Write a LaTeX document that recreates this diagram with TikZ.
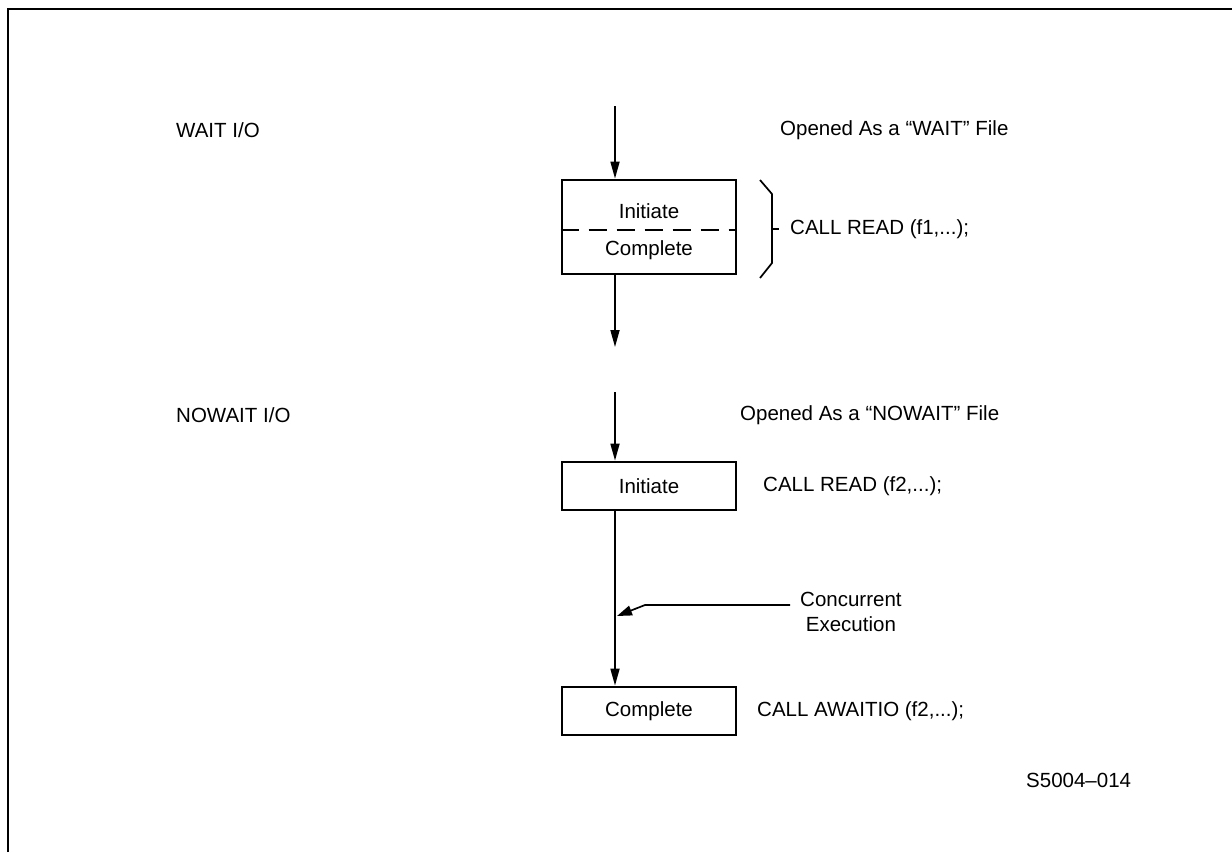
\documentclass[tikz,border=0pt]{standalone}
\usepackage{fontspec}
\setmainfont{Liberation Sans}
\usetikzlibrary{arrows.meta}
\begin{document}
\begin{tikzpicture}[x=1pt,y=-1pt,
  lbl/.style={font=\fontsize{20.5}{24.5}\selectfont, inner sep=0pt, anchor=west},
  boxtext/.style={font=\fontsize{20.5}{24.5}\selectfont, inner sep=0pt},
  procbox/.style={draw, line width=2.8pt, minimum width=174pt, inner sep=0pt},
  flow/.style={line width=1.7pt, -{Triangle[length=17pt,width=9pt]}},
  plain/.style={line width=1.7pt}]
\useasboundingbox (0,0) rectangle (1232,852);
% frame
\draw[line width=2pt] (8,852) -- (8,9) -- (1232,9);
% ---- WAIT I/O ----
\node[lbl] (waitlbl) at (176,130) {WAIT I/O};
\node[lbl] (waitopen) at (780,130) {Opened As a “WAIT” File};
\coordinate (a1) at (615,106);
\node[procbox, minimum height=94pt] (box1) at (649,227) {};
\node[boxtext] (init1) at (649,211) {Initiate};
\node[boxtext] (comp1) at (649,250) {Complete};
\draw[line width=1.5pt, dash pattern=on 18pt off 10pt] (box1.west |- 0,230) -- (box1.east |- 0,230);
\draw[flow] (a1) -- (a1 |- box1.north);
\coordinate (a2) at (615,347);
\draw[flow] (a1 |- box1.south) -- (a2);
% brace
\coordinate (br) at (772,229);
\draw[line width=1.7pt] (760,180) -- (772,194) -- (772,263) -- (760,278);
\draw[line width=1.7pt] (br) -- (779,229);
\node[lbl] (read1) at (790,229) {CALL READ (f1,...);};
% ---- NOWAIT I/O ----
\node[lbl] (nowaitlbl) at (176,415) {NOWAIT I/O};
\node[lbl] (nowaitopen) at (740,415) {Opened As a “NOWAIT” File};
\coordinate (a3) at (615,392);
\node[procbox, minimum height=48pt] (box2) at (649,486) {};
\node[boxtext] (init2) at (649,486) {Initiate};
\draw[flow] (a3) -- (a3 |- box2.north);
\node[lbl] (read2) at (763,486) {CALL READ (f2,...);};
\node[procbox, minimum height=48pt] (box3) at (649,711) {};
\node[boxtext] (comp2) at (649,711) {Complete};
\draw[flow] (a3 |- box2.south) -- (a3 |- box3.north);
\node[lbl] (await) at (757,711) {CALL AWAITIO (f2,...);};
% concurrent execution
\node[lbl, align=center, anchor=north west] (conc) at (800,592) {Concurrent\\Execution};
\coordinate (c0) at (790,605);
\coordinate (c1) at (645,605);
\coordinate (c2) at (617,616);
\draw[plain, -{Triangle[length=15pt,width=10pt]}] (c0) -- (c1) -- (c2);
\node[lbl] (code) at (1026,780) {S5004{\char"2013}014};
\end{tikzpicture}
\end{document}
